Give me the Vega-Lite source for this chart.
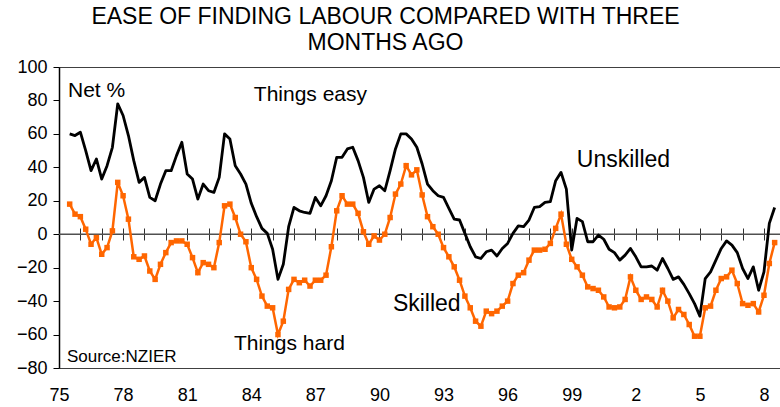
{
  "$schema": "https://vega.github.io/schema/vega-lite/v6.json",
  "width": 721,
  "height": 301,
  "autosize": {"type": "none"},
  "padding": {"left": 59, "top": 67, "right": 0, "bottom": 39},
  "background": "white",
  "config": {"font": "Liberation Sans", "view": {"stroke": "#404040", "strokeWidth": 1}},
  "title": {
    "text": ["EASE OF FINDING LABOUR COMPARED WITH THREE", "MONTHS AGO"],
    "font": "Liberation Sans",
    "fontSize": 23,
    "fontWeight": "normal",
    "color": "black",
    "lineHeight": 26,
    "anchor": "middle",
    "dx": -34,
    "offset": 3
  },
  "datasets": {
    "q": [
      {"t":1975.5,"s":18,"u":60},
      {"t":1975.75,"s":12,"u":59},
      {"t":1976,"s":10.5,"u":61},
      {"t":1976.25,"s":3,"u":50},
      {"t":1976.5,"s":-6,"u":38},
      {"t":1976.75,"s":-2,"u":45},
      {"t":1977,"s":-12,"u":33},
      {"t":1977.25,"s":-8,"u":41},
      {"t":1977.5,"s":2,"u":52},
      {"t":1977.75,"s":31,"u":78},
      {"t":1978,"s":23,"u":71},
      {"t":1978.25,"s":9,"u":59},
      {"t":1978.5,"s":-13.5,"u":44},
      {"t":1978.75,"s":-15,"u":31},
      {"t":1979,"s":-13,"u":34},
      {"t":1979.25,"s":-22,"u":22},
      {"t":1979.5,"s":-27,"u":20},
      {"t":1979.75,"s":-18,"u":30},
      {"t":1980,"s":-11,"u":38},
      {"t":1980.25,"s":-5,"u":38},
      {"t":1980.5,"s":-4,"u":47},
      {"t":1980.75,"s":-4,"u":55},
      {"t":1981,"s":-6,"u":36},
      {"t":1981.25,"s":-14,"u":33},
      {"t":1981.5,"s":-23,"u":21},
      {"t":1981.75,"s":-17,"u":30},
      {"t":1982,"s":-18,"u":26},
      {"t":1982.25,"s":-20,"u":25},
      {"t":1982.5,"s":-5,"u":34},
      {"t":1982.75,"s":17,"u":60},
      {"t":1983,"s":18,"u":57},
      {"t":1983.25,"s":10,"u":41},
      {"t":1983.5,"s":0,"u":36},
      {"t":1983.75,"s":-4.5,"u":30},
      {"t":1984,"s":-20,"u":18.5},
      {"t":1984.25,"s":-27,"u":10.5},
      {"t":1984.5,"s":-37,"u":3.5},
      {"t":1984.75,"s":-43,"u":0.5},
      {"t":1985,"s":-44,"u":-9},
      {"t":1985.25,"s":-60,"u":-27},
      {"t":1985.5,"s":-52,"u":-18},
      {"t":1985.75,"s":-33,"u":4.5},
      {"t":1986,"s":-27,"u":16},
      {"t":1986.25,"s":-29,"u":14},
      {"t":1986.5,"s":-27.5,"u":13},
      {"t":1986.75,"s":-31,"u":12.5},
      {"t":1987,"s":-27.5,"u":22},
      {"t":1987.25,"s":-27.5,"u":17},
      {"t":1987.5,"s":-24.5,"u":23},
      {"t":1987.75,"s":-7.5,"u":32},
      {"t":1988,"s":14,"u":46},
      {"t":1988.25,"s":23,"u":46},
      {"t":1988.5,"s":18,"u":51},
      {"t":1988.75,"s":18,"u":52},
      {"t":1989,"s":12.5,"u":44},
      {"t":1989.25,"s":1.5,"u":34},
      {"t":1989.5,"s":-6,"u":19},
      {"t":1989.75,"s":-1,"u":27},
      {"t":1990,"s":-3.5,"u":29},
      {"t":1990.25,"s":0,"u":26},
      {"t":1990.5,"s":10,"u":38},
      {"t":1990.75,"s":24,"u":51},
      {"t":1991,"s":30,"u":60},
      {"t":1991.25,"s":41,"u":60},
      {"t":1991.5,"s":35.5,"u":57},
      {"t":1991.75,"s":38.5,"u":52},
      {"t":1992,"s":23.5,"u":42},
      {"t":1992.25,"s":10.5,"u":30},
      {"t":1992.5,"s":4.5,"u":26},
      {"t":1992.75,"s":0,"u":23},
      {"t":1993,"s":-8,"u":22},
      {"t":1993.25,"s":-13.5,"u":15.5},
      {"t":1993.5,"s":-19.5,"u":9},
      {"t":1993.75,"s":-27.5,"u":8.5},
      {"t":1994,"s":-37,"u":0.5},
      {"t":1994.25,"s":-44,"u":-7.5},
      {"t":1994.5,"s":-52,"u":-13.5},
      {"t":1994.75,"s":-55,"u":-14.5},
      {"t":1995,"s":-46,"u":-10.5},
      {"t":1995.25,"s":-47.5,"u":-9.5},
      {"t":1995.5,"s":-46,"u":-13},
      {"t":1995.75,"s":-43,"u":-8.5},
      {"t":1996,"s":-40,"u":-5.5},
      {"t":1996.25,"s":-29.5,"u":0.5},
      {"t":1996.5,"s":-24.5,"u":5},
      {"t":1996.75,"s":-23,"u":4.5},
      {"t":1997,"s":-15.5,"u":8.5},
      {"t":1997.25,"s":-9.5,"u":16},
      {"t":1997.5,"s":-9.5,"u":16.5},
      {"t":1997.75,"s":-9,"u":19},
      {"t":1998,"s":-5.5,"u":19.5},
      {"t":1998.25,"s":3.5,"u":32},
      {"t":1998.5,"s":12,"u":37},
      {"t":1998.75,"s":-6,"u":27},
      {"t":1999,"s":-15,"u":-9.5},
      {"t":1999.25,"s":-19.5,"u":9.5},
      {"t":1999.5,"s":-24.5,"u":7.5},
      {"t":1999.75,"s":-31.5,"u":-4.5},
      {"t":2000,"s":-32.5,"u":-4.5},
      {"t":2000.25,"s":-33.5,"u":-0.5},
      {"t":2000.5,"s":-37.5,"u":-3},
      {"t":2000.75,"s":-43.5,"u":-9},
      {"t":2001,"s":-44,"u":-11},
      {"t":2001.25,"s":-43.5,"u":-15.5},
      {"t":2001.5,"s":-39,"u":-12.5},
      {"t":2001.75,"s":-25.5,"u":-8.5},
      {"t":2002,"s":-33.5,"u":-13.5},
      {"t":2002.25,"s":-39,"u":-19.5},
      {"t":2002.5,"s":-37.5,"u":-19.5},
      {"t":2002.75,"s":-39,"u":-19},
      {"t":2003,"s":-43.5,"u":-21.5},
      {"t":2003.25,"s":-33.5,"u":-14.5},
      {"t":2003.5,"s":-40,"u":-20.5},
      {"t":2003.75,"s":-50,"u":-27},
      {"t":2004,"s":-45,"u":-25.5},
      {"t":2004.25,"s":-48,"u":-30},
      {"t":2004.5,"s":-54,"u":-35.5},
      {"t":2004.75,"s":-61,"u":-41.5},
      {"t":2005,"s":-61,"u":-49},
      {"t":2005.25,"s":-44,"u":-26.5},
      {"t":2005.5,"s":-43,"u":-22.5},
      {"t":2005.75,"s":-33.5,"u":-15.5},
      {"t":2006,"s":-26.5,"u":-8.5},
      {"t":2006.25,"s":-25.5,"u":-4},
      {"t":2006.5,"s":-21.5,"u":-6.5},
      {"t":2006.75,"s":-29.5,"u":-11},
      {"t":2007,"s":-41.5,"u":-20.5},
      {"t":2007.25,"s":-42.5,"u":-26.5},
      {"t":2007.5,"s":-41.5,"u":-19.5},
      {"t":2007.75,"s":-46.5,"u":-33.5},
      {"t":2008,"s":-36.5,"u":-22.5},
      {"t":2008.25,"s":-17.5,"u":6.5},
      {"t":2008.5,"s":-5,"u":16}
    ]
  },
  "layer": [
    {
      "data": {"values": [{}]},
      "mark": {"type": "rule", "color": "#505050", "strokeWidth": 1.5},
      "encoding": {
        "y": {"datum": 0, "type": "quantitative", "scale": {"domain": [-80, 100], "nice": false, "zero": false}, "axis": null}
      }
    },
    {
      "data": {"name": "q"},
      "mark": {"type": "line", "color": "black", "strokeWidth": 2.8, "strokeJoin": "round"},
      "encoding": {
        "x": {
          "field": "t", "type": "quantitative",
          "scale": {"domain": [1975, 2008.75], "nice": false, "zero": false},
          "axis": {
            "orient": "bottom", "offset": -140, "title": null, "labels": false, "domain": false, "grid": false,
            "values": [1975,1976,1977,1978,1979,1980,1981,1982,1983,1984,1985,1986,1987,1988,1989,1990,1991,1992,1993,1994,1995,1996,1997,1998,1999,2000,2001,2002,2003,2004,2005,2006,2007,2008],
            "tickSize": 12, "tickColor": "#303030", "tickWidth": 1
          }
        },
        "y": {
          "field": "u", "type": "quantitative",
          "scale": {"domain": [-80, 100], "nice": false, "zero": false},
          "axis": {
            "title": null, "grid": false, "values": [-80,-60,-40,-20,0,20,40,60,80,100],
            "tickSize": 6, "tickColor": "black", "domainColor": "black", "domainWidth": 1.5,
            "labelFontSize": 18, "labelColor": "black", "labelPadding": 6, "labelFont": "Liberation Sans"
          }
        }
      }
    },
    {
      "data": {"name": "q"},
      "mark": {"type": "line", "color": "#ff6600", "strokeWidth": 2.5, "point": {"shape": "square", "size": 30, "filled": true, "color": "#ff6600", "opacity": 1}},
      "encoding": {
        "x": {
          "field": "t", "type": "quantitative",
          "axis": {
            "orient": "bottom", "title": null, "ticks": false, "domain": false, "grid": false,
            "values": [1975,1978,1981,1984,1987,1990,1993,1996,1999,2002,2005,2008],
            "labelExpr": "'' + (datum.value % 100)",
            "labelFlush": false, "labelOverlap": false,
            "labelFontSize": 18, "labelColor": "black", "labelPadding": 18, "labelFont": "Liberation Sans"
          }
        },
        "y": {"field": "s", "type": "quantitative", "axis": null}
      }
    },
    {
      "data": {"values": [
        {"t": 1975.42, "v": 82, "label": "Net %"},
        {"t": 1984.12, "v": 79.5, "label": "Things easy"},
        {"t": 1983.19, "v": -69.5, "label": "Things hard"}
      ]},
      "mark": {"type": "text", "align": "left", "baseline": "alphabetic", "fontSize": 21, "font": "Liberation Sans", "color": "black"},
      "encoding": {
        "x": {"field": "t", "type": "quantitative", "axis": null},
        "y": {"field": "v", "type": "quantitative", "axis": null},
        "text": {"field": "label"}
      }
    },
    {
      "data": {"values": [
        {"t": 1990.63, "v": -46, "label": "Skilled"},
        {"t": 1999.24, "v": 40.4, "label": "Unskilled"}
      ]},
      "mark": {"type": "text", "align": "left", "baseline": "alphabetic", "fontSize": 23, "font": "Liberation Sans", "color": "black"},
      "encoding": {
        "x": {"field": "t", "type": "quantitative", "axis": null},
        "y": {"field": "v", "type": "quantitative", "axis": null},
        "text": {"field": "label"}
      }
    },
    {
      "data": {"values": [
        {"t": 1975.37, "v": -76.4, "label": "Source:NZIER"}
      ]},
      "mark": {"type": "text", "align": "left", "baseline": "alphabetic", "fontSize": 17, "font": "Liberation Sans", "color": "black"},
      "encoding": {
        "x": {"field": "t", "type": "quantitative", "axis": null},
        "y": {"field": "v", "type": "quantitative", "axis": null},
        "text": {"field": "label"}
      }
    }
  ],
  "resolve": {"axis": {"x": "independent", "y": "independent"}}
}
